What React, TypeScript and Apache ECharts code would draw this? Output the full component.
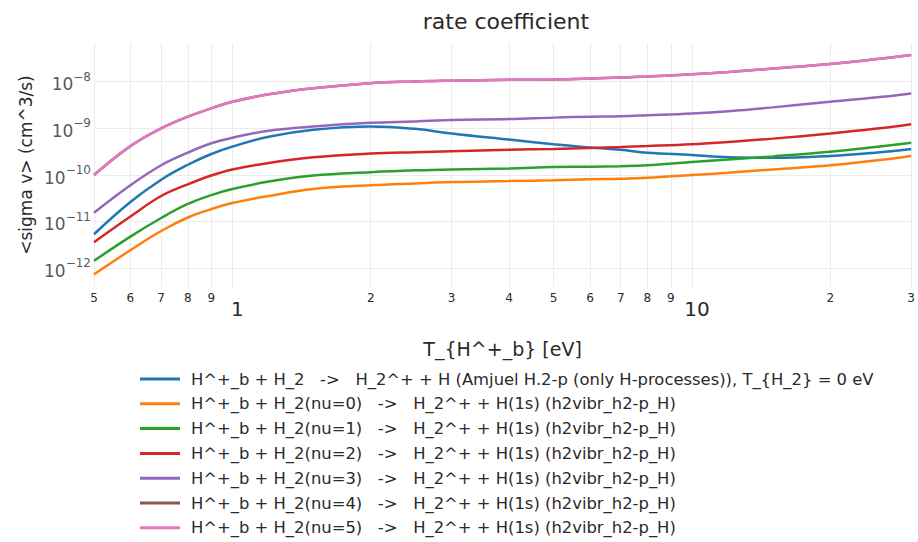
import React, { useEffect, useRef } from "react";
import * as echarts from "echarts";

// T_{H^+_b} [eV]
const temperatures = [0.5, 0.6, 0.7, 0.8, 0.9, 1, 1.2, 1.5, 2, 2.5, 3, 4, 5, 6, 7, 8, 10, 12, 15, 20, 25, 30];

// <sigma v> (cm^3/s)
const amjuelH2p = [5.37e-12, 2.63e-11, 7.94e-11, 1.66e-10, 2.82e-10, 4.07e-10, 6.61e-10, 9.33e-10, 1.1e-9, 9.77e-10, 7.76e-10, 5.75e-10, 4.57e-10, 3.89e-10, 3.47e-10, 3.02e-10, 2.69e-10, 2.4e-10, 2.34e-10, 2.57e-10, 3.02e-10, 3.63e-10];
const nu0 = [7.41e-13, 2.45e-12, 6.31e-12, 1.23e-11, 1.86e-11, 2.51e-11, 3.55e-11, 5.01e-11, 6.03e-11, 6.61e-11, 7.08e-11, 7.41e-11, 7.76e-11, 8.13e-11, 8.32e-11, 8.71e-11, 1.0e-10, 1.12e-10, 1.32e-10, 1.62e-10, 2.04e-10, 2.57e-10];
const nu1 = [1.45e-12, 4.79e-12, 1.2e-11, 2.4e-11, 3.72e-11, 5.01e-11, 7.24e-11, 9.77e-11, 1.15e-10, 1.26e-10, 1.32e-10, 1.38e-10, 1.48e-10, 1.51e-10, 1.55e-10, 1.62e-10, 1.91e-10, 2.14e-10, 2.51e-10, 3.16e-10, 3.98e-10, 4.9e-10];
const nu2 = [3.63e-12, 1.29e-11, 3.55e-11, 6.31e-11, 9.77e-11, 1.32e-10, 1.82e-10, 2.4e-10, 2.88e-10, 3.09e-10, 3.24e-10, 3.47e-10, 3.63e-10, 3.8e-10, 3.98e-10, 4.17e-10, 4.57e-10, 5.13e-10, 6.03e-10, 7.76e-10, 9.77e-10, 1.23e-9];
const nu3 = [1.55e-11, 6.03e-11, 1.62e-10, 3.02e-10, 4.79e-10, 6.31e-10, 8.91e-10, 1.1e-9, 1.32e-9, 1.41e-9, 1.51e-9, 1.58e-9, 1.7e-9, 1.78e-9, 1.82e-9, 1.91e-9, 2.09e-9, 2.34e-9, 2.82e-9, 3.72e-9, 4.57e-9, 5.62e-9];
const nu4 = [1.0e-10, 4.17e-10, 1.0e-9, 1.78e-9, 2.69e-9, 3.72e-9, 5.37e-9, 7.24e-9, 9.33e-9, 1.01e-8, 1.05e-8, 1.1e-8, 1.12e-8, 1.17e-8, 1.23e-8, 1.29e-8, 1.45e-8, 1.62e-8, 1.91e-8, 2.4e-8, 3.02e-8, 3.72e-8];
const nu5 = [1.0e-10, 4.17e-10, 1.0e-9, 1.78e-9, 2.69e-9, 3.72e-9, 5.37e-9, 7.24e-9, 9.33e-9, 1.01e-8, 1.05e-8, 1.1e-8, 1.12e-8, 1.17e-8, 1.23e-8, 1.29e-8, 1.45e-8, 1.62e-8, 1.91e-8, 2.4e-8, 3.02e-8, 3.72e-8];

const seriesNames = [
  "H^+_b + H_2   ->   H_2^+ + H (Amjuel H.2-p (only H-processes)), T_{H_2} = 0 eV",
  "H^+_b + H_2(nu=0)   ->   H_2^+ + H(1s) (h2vibr_h2-p_H)",
  "H^+_b + H_2(nu=1)   ->   H_2^+ + H(1s) (h2vibr_h2-p_H)",
  "H^+_b + H_2(nu=2)   ->   H_2^+ + H(1s) (h2vibr_h2-p_H)",
  "H^+_b + H_2(nu=3)   ->   H_2^+ + H(1s) (h2vibr_h2-p_H)",
  "H^+_b + H_2(nu=4)   ->   H_2^+ + H(1s) (h2vibr_h2-p_H)",
  "H^+_b + H_2(nu=5)   ->   H_2^+ + H(1s) (h2vibr_h2-p_H)",
];
const seriesValues = [amjuelH2p, nu0, nu1, nu2, nu3, nu4, nu5];
const seriesColors = ["#1f77b4", "#ff7f0e", "#2ca02c", "#d62728", "#9467bd", "#8c564b", "#e377c2"];

// tick labels
const xTickValues = [0.5, 0.6, 0.7, 0.8, 0.9, 1, 2, 3, 4, 5, 6, 7, 8, 9, 10, 20, 30];
const yTickExponents = [-12, -11, -10, -9, -8];

const FONT = "DejaVu Sans";
const TXT = "#2a2a2a";
const GRIDC = "#ebebeb";

function measure(text: string, size: number): number {
  const c = document.createElement("canvas").getContext("2d");
  if (!c) return text.length * size * 0.6;
  c.font = size + 'px "' + FONT + '"';
  return c.measureText(text).width;
}

export default function App() {
  const ref = useRef<HTMLDivElement>(null);
  useEffect(() => {
    document.body.style.margin = "0";
    if (!ref.current) return;
    const chart = echarts.init(ref.current, null, { renderer: "svg" });
    const xMinLog = Math.log10(0.5);
    const xLogs = xTickValues.map((v) => Math.log10(v));
    const fmtX = (v: number) => {
      const t = Math.round(Math.pow(10, v) * 1000) / 1000;
      if (Math.abs(t - 1) < 1e-6) return "{big|1}";
      if (Math.abs(t - 10) < 1e-6) return "{big|10}";
      const d = t < 1 ? Math.round(t * 10) : t < 10 ? Math.round(t) : Math.round(t / 10);
      return "{small|" + d + "}";
    };
    const lineSeries = seriesNames.map((name, i) => ({
      type: "line",
      name,
      xAxisIndex: 0,
      yAxisIndex: 0,
      symbol: "none",
      smooth: 0.4,
      data: temperatures.map((t, j) => [t, seriesValues[i][j]]),
      lineStyle: { width: 2.5, color: seriesColors[i] },
      itemStyle: { color: seriesColors[i] },
      z: 2 + i,
    }));
    const baseW = measure("10", 17);
    const yLabelSeries = {
      type: "scatter",
      name: "yTickLabels",
      xAxisIndex: 1,
      yAxisIndex: 1,
      symbolSize: 0,
      silent: true,
      clip: false,
      data: yTickExponents.map((e) => {
        const sup = "\u2212" + Math.abs(e);
        const w = baseW + measure(sup, 12);
        return {
          value: [xMinLog, e],
          label: { position: [-(w + 3), 0] },
        };
      }),
      label: {
        show: true,
        align: "left",
        verticalAlign: "middle",
        formatter: (p: any) => "{b|10}{s|\u2212" + Math.abs(Math.round(p.value[1])) + "}",
        rich: {
          b: { fontSize: 17, lineHeight: 22, verticalAlign: "bottom", color: TXT, fontFamily: FONT },
          s: { fontSize: 12, lineHeight: 22, verticalAlign: "top", color: TXT, fontFamily: FONT },
        },
      },
      z: 1,
    };
    const option: any = {
      animation: false,
      textStyle: { fontFamily: FONT },
      grid: { left: 94, right: 0, top: 43, bottom: 255, containLabel: false },
      xAxis: [
        { type: "log", logBase: 10, min: 0.5, max: 30, show: false, position: "bottom" },
        {
          type: "value",
          position: "bottom",
          min: xMinLog,
          max: Math.log10(30),
          axisLine: { show: false },
          axisTick: { show: false, customValues: xLogs },
          splitLine: { show: true, lineStyle: { color: GRIDC, width: 1 } },
          axisLabel: {
            customValues: xLogs,
            formatter: fmtX,
            margin: 4,
            color: TXT,
            rich: {
              small: { fontSize: 12, lineHeight: 14, color: TXT, fontFamily: FONT },
              big: { fontSize: 20, lineHeight: 20, padding: [16, 0, 0, 10], color: TXT, fontFamily: FONT },
            },
          },
          name: "T_{H^+_b} [eV]",
          nameLocation: "middle",
          nameGap: 52,
          nameTextStyle: { fontSize: 19, color: TXT, fontFamily: FONT },
        },
      ],
      yAxis: [
        { type: "log", logBase: 10, min: Math.pow(10, -12.4), max: Math.pow(10, -7.17), show: false, position: "left" },
        {
          type: "value",
          position: "left",
          min: -12.4,
          max: -7.17,
          axisLine: { show: false },
          axisTick: { show: false, customValues: yTickExponents },
          splitLine: { show: true, lineStyle: { color: GRIDC, width: 1 } },
          axisLabel: { show: false, customValues: yTickExponents },
          name: "<sigma v> (cm^3/s)",
          nameLocation: "middle",
          nameGap: 60,
          nameTextStyle: { fontSize: 17, color: TXT, fontFamily: FONT },
        },
      ],
      legend: {
        orient: "vertical",
        left: 140,
        top: 370,
        height: 172,
        padding: 0,
        icon: "rect",
        itemWidth: 40,
        itemHeight: 3,
        itemGap: 6.8,
        selectedMode: false,
        data: seriesNames,
        textStyle: { fontSize: 16.4, lineHeight: 18, color: TXT, fontFamily: FONT, padding: [0, 0, 0, 6] },
      },
      graphic: [
        {
          type: "text",
          x: 506,
          y: 21,
          style: { text: "rate coefficient", fontSize: 22, fontFamily: FONT, fill: TXT, align: "center", verticalAlign: "middle" },
        },
      ],
      series: [...lineSeries, yLabelSeries],
    };
    chart.setOption(option);
    return () => chart.dispose();
  }, []);
  return <div ref={ref} style={{ width: 918, height: 542 }} />;
}
